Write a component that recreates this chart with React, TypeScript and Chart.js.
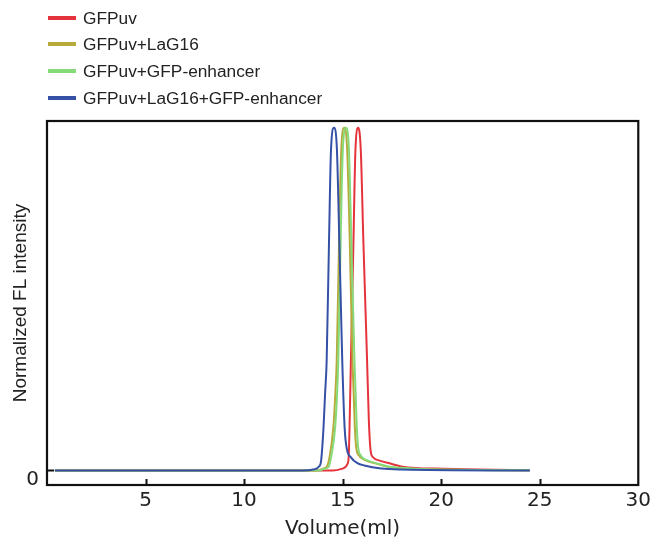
import React, { useEffect, useRef } from 'react';
import { Chart, registerables } from 'chart.js';

Chart.register(...registerables);

// ---- data ----
const seriesNames = ['GFPuv', 'GFPuv+LaG16', 'GFPuv+GFP-enhancer', 'GFPuv+LaG16+GFP-enhancer'];
const seriesColors = ['#e5333b', '#b7aa3c', '#86da7a', '#3451a5'];

const volRed = [0.4, 13.0, 14.48, 14.95, 15.25, 15.31, 15.35, 15.42, 15.55, 15.65, 15.79, 15.92, 16.05, 16.24, 16.33, 16.42, 16.54, 16.88, 17.46, 17.97, 18.81, 19.66, 21.83, 24.49];
const intRed = [0, 0, 0, 0.005, 0.02, 0.044, 0.126, 0.322, 0.673, 0.936, 1.0, 0.936, 0.673, 0.322, 0.146, 0.058, 0.039, 0.029, 0.02, 0.012, 0.007, 0.006, 0.003, 0.001];

const volOlive = [0.4, 13.0, 13.67, 14.03, 14.2, 14.33, 14.53, 14.63, 14.7, 14.82, 14.93, 15.08, 15.23, 15.36, 15.5, 15.56, 15.62, 15.69, 15.83, 16.12, 16.79, 17.3, 17.95, 18.81, 21.83, 24.49];
const intOlive = [0, 0, 0, 0.006, 0.012, 0.038, 0.126, 0.225, 0.322, 0.673, 0.936, 1.0, 0.936, 0.673, 0.322, 0.225, 0.126, 0.067, 0.044, 0.031, 0.019, 0.011, 0.007, 0.005, 0.002, 0.001];

const volGreen = [0.4, 13.0, 13.77, 14.11, 14.28, 14.41, 14.62, 14.72, 14.78, 14.9, 15.01, 15.17, 15.32, 15.44, 15.6, 15.66, 15.72, 15.79, 15.92, 16.2, 16.79, 17.3, 17.95, 18.81, 21.83, 24.49];
const intGreen = [0, 0, 0, 0.006, 0.01, 0.038, 0.126, 0.225, 0.322, 0.673, 0.936, 1.0, 0.936, 0.673, 0.322, 0.225, 0.126, 0.067, 0.044, 0.031, 0.02, 0.012, 0.008, 0.005, 0.002, 0.001];

const volBlue = [0.4, 13.0, 13.5, 13.8, 13.91, 14.03, 14.11, 14.19, 14.31, 14.41, 14.56, 14.71, 14.83, 14.98, 15.1, 15.2, 15.43, 15.75, 16.1, 16.96, 18.0, 24.5];
const intBlue = [0, 0, 0.003, 0.012, 0.03, 0.126, 0.225, 0.322, 0.673, 0.936, 1.0, 0.936, 0.673, 0.322, 0.126, 0.067, 0.038, 0.022, 0.015, 0.006, 0.003, 0];

const xTickValues = [5, 10, 15, 20, 25, 30];
const yTickValues = [0];

const seriesVolumes = [volRed, volOlive, volGreen, volBlue];
const seriesIntensities = [intRed, intOlive, intGreen, intBlue];

const frameAndTicks = {
  id: 'frameAndTicks',
  afterDraw(chart: any) {
    const { ctx, chartArea: a, scales } = chart;
    ctx.save();
    ctx.strokeStyle = '#111';
    ctx.lineWidth = 2.2;
    ctx.strokeRect(a.left, a.top, a.right - a.left, a.bottom - a.top);
    ctx.beginPath();
    ctx.lineWidth = 2;
    for (const v of xTickValues) {
      if (v >= 30) continue;
      const px = Math.round(scales.x.getPixelForValue(v)) + 0.5;
      ctx.moveTo(px, a.bottom);
      ctx.lineTo(px, a.bottom - 6);
    }
    for (const v of yTickValues) {
      const py = scales.y.getPixelForValue(v);
      ctx.moveTo(a.left, py);
      ctx.lineTo(a.left + 7, py);
    }
    ctx.stroke();
    ctx.restore();
  },
};

export default function App() {
  const canvasRef = useRef<HTMLCanvasElement | null>(null);

  useEffect(() => {
    if (!canvasRef.current) return;
    const datasets = seriesNames.map((name, i) => ({
      label: name,
      data: seriesVolumes[i].map((v, j) => ({ x: v, y: seriesIntensities[i][j] })),
      borderColor: seriesColors[i],
      backgroundColor: seriesColors[i],
      borderWidth: 2,
      pointRadius: 0,
      cubicInterpolationMode: 'monotone' as const,
      fill: false,
      order: 3 - i,
    }));
    const chart = new Chart(canvasRef.current, {
      type: 'line',
      data: { datasets },
      options: {
        animation: false,
        responsive: true,
        maintainAspectRatio: false,
        layout: { padding: { top: 121, right: 15, left: 0, bottom: 0 } },
        plugins: { legend: { display: false }, tooltip: { enabled: false } },
        scales: {
          x: {
            type: 'linear',
            min: 0,
            max: 30,
            afterBuildTicks: (scale: any) => {
              scale.ticks = xTickValues.map((v) => ({ value: v }));
            },
            afterFit: (scale: any) => {
              scale.height = 54;
            },
            grid: { display: false, drawTicks: false },
            border: { display: false },
            ticks: {
              padding: 4,
              maxRotation: 0,
              color: '#222',
              font: { family: 'DejaVu Sans', size: 20 },
            },
            title: {
              display: true,
              text: 'Volume(ml)',
              color: '#222',
              font: { family: 'DejaVu Sans', size: 20, lineHeight: 1 },
              padding: { top: 0, bottom: 0 },
            },
          },
          y: {
            type: 'linear',
            min: -0.042,
            max: 1.02,
            afterBuildTicks: (scale: any) => {
              scale.ticks = yTickValues.map((v) => ({ value: v }));
            },
            afterFit: (scale: any) => {
              scale.width = 47;
            },
            grid: { display: false, drawTicks: false },
            border: { display: false },
            ticks: {
              padding: 8,
              labelOffset: 9,
              color: '#222',
              font: { family: 'DejaVu Sans', size: 20 },
            },
            title: {
              display: true,
              text: 'Normalized FL intensity',
              color: '#222',
              font: { family: 'Liberation Sans', size: 19 },
              padding: { top: 9, bottom: 0 },
            },
          },
        },
      },
      plugins: [frameAndTicks],
    });
    return () => chart.destroy();
  }, []);

  const legendCenters = [18, 44, 71, 98];

  return (
    <div style={{ position: 'fixed', left: 0, top: 0, width: 655, height: 539, background: '#fff' }}>
      <canvas ref={canvasRef} />
      {seriesNames.map((name, i) => (
        <div
          key={name}
          style={{
            position: 'absolute',
            left: 48,
            top: legendCenters[i] - 12,
            height: 24,
            display: 'flex',
            alignItems: 'center',
            fontFamily: 'Liberation Sans, Arial, sans-serif',
            fontSize: 17.3,
            color: '#222',
            whiteSpace: 'nowrap',
          }}
        >
          <span style={{ display: 'inline-block', width: 28, height: 4, background: seriesColors[i], marginRight: 7 }} />
          <span>{name}</span>
        </div>
      ))}
    </div>
  );
}
